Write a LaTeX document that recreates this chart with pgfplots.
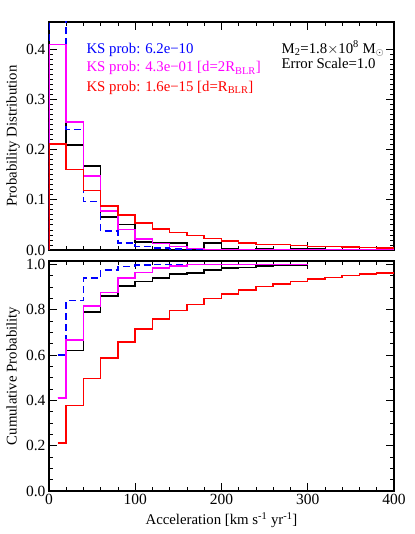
\documentclass[border=0pt]{standalone}
\usepackage{pgfplots}
\pgfplotsset{compat=1.18}
\usepackage{fontspec}
\setmainfont{Liberation Serif}
\definecolor{idlblue}{RGB}{0,0,255}
\definecolor{idlmag}{RGB}{255,0,255}
\definecolor{idlred}{RGB}{255,0,0}
\pgfplotsset{
  myaxis/.style={
    scale only axis, width=345bp,
    font=\fontsize{14.8bp}{17bp}\selectfont,
    tick label style={font=\fontsize{15.5bp}{17bp}\selectfont},
    xmin=0, xmax=400, xtick={0,100,200,300,400}, minor x tick num=4,
    tick align=inside, major tick length=8bp, minor tick length=4bp,
    axis line style={line width=1.3bp},
    every tick/.style={black, line width=0.9bp},
    /pgf/number format/assume math mode=true,
    yticklabel style={/pgf/number format/.cd, fixed, fixed zerofill, precision=1},
    xticklabel style={/pgf/number format/.cd, fixed, precision=0},
    ylabel style={at={(axis description cs:-0.104,0.5)}, anchor=center},
    every axis plot/.append style={line width=1.5bp, const plot mark left},
  }
}
\begin{document}
\begin{tikzpicture}
\path[use as bounding box] (-49bp,-43bp) rectangle (366bp,491bp);
% bottom panel
\begin{axis}[myaxis, at={(0,0)}, anchor=south west, height=230bp,
  ymin=0, ymax=1.015, ytick={0,0.2,0.4,0.6,0.8,1.0}, minor y tick num=3,
  ylabel={Cumulative Probability},
  xlabel={Acceleration [km s\textsuperscript{-1} yr\textsuperscript{-1}]},
  xlabel style={at={(axis description cs:0.5,-0.126)}, anchor=center}]
\addplot[black] coordinates {(10,0.41)(20,0.62)(40,0.79)(60,0.86)(80,0.905)(100,0.925)(120,0.94)(140,0.958)(160,0.963)(180,0.975)(200,0.985)(220,0.986)(240,0.993)(260,0.995)(280,0.998)(300,0.998)};
\addplot[idlblue, dash pattern=on 7bp off 4bp] coordinates {(10,0.60)(20,0.84)(40,0.939)(60,0.975)(80,0.99)(100,0.997)(120,1.0)(140,1.0)(260,1.0)};
\addplot[idlmag] coordinates {(10,0.41)(20,0.667)(40,0.816)(60,0.877)(80,0.939)(100,0.964)(120,0.983)(140,0.994)(160,1.0)(300,1.0)};
\addplot[idlred] coordinates {(10,0.212)(20,0.377)(40,0.497)(60,0.587)(80,0.657)(100,0.714)(120,0.758)(140,0.797)(160,0.823)(180,0.849)(200,0.870)(220,0.887)(240,0.902)(260,0.914)(280,0.925)(300,0.935)(320,0.943)(340,0.950)(360,0.957)(380,0.962)(400,0.962)};
\end{axis}
% top panel
\begin{axis}[myaxis, at={(0,241bp)}, anchor=south west, height=228bp,
  ymin=0, ymax=0.455, ytick={0,0.1,0.2,0.3,0.4}, minor y tick num=9,
  xticklabels={},
  ylabel={Probability Distribution}]
\addplot[black] coordinates {(0,0)(0,0.41)(20,0.21)(40,0.168)(60,0.066)(80,0.051)(100,0.016)(120,0.014)(140,0.014)(160,0)(180,0.014)(200,0.003)(220,0)(240,0.003)(260,0)(280,0.003)(300,0.003)(320,0)(400,0)};
\addplot[idlblue, dash pattern=on 7bp off 4bp] coordinates {(0,0)(0,0.60)(20,0.24)(40,0.097)(60,0.038)(80,0.014)(100,0.007)(120,0.004)(140,0.002)(160,0)(400,0)};
\addplot[idlmag] coordinates {(0,0)(0,0.41)(20,0.255)(40,0.148)(60,0.078)(80,0.041)(100,0.022)(120,0.013)(140,0.007)(160,0.003)(180,0.001)(200,0)(400,0)};
\addplot[idlred] coordinates {(0,0)(0,0.212)(20,0.161)(40,0.119)(60,0.088)(80,0.070)(100,0.054)(120,0.042)(140,0.035)(160,0.029)(180,0.023)(200,0.018)(220,0.014)(240,0.011)(260,0.011)(280,0.009)(300,0.007)(320,0.007)(340,0.006)(360,0.005)(380,0.004)(400,0.004)};
\node[anchor=base west, text=idlblue] at (axis description cs:0.0986,0.864) {KS prob: 6.2e−10};
\node[anchor=base west, text=idlmag] at (axis description cs:0.0986,0.781) {KS prob: 4.3e−01 [d=2R\textsubscript{BLR}]};
\node[anchor=base west, text=idlred] at (axis description cs:0.0986,0.697) {KS prob: 1.6e−15 [d=R\textsubscript{BLR}]};
\node[anchor=base west] at (axis description cs:0.664,0.864) {M\textsubscript{2}=1.8$\times$10\textsuperscript{8} M$_\odot$};
\node[anchor=base west] at (axis description cs:0.664,0.794) {Error Scale=1.0};
\end{axis}
\end{tikzpicture}
\end{document}
